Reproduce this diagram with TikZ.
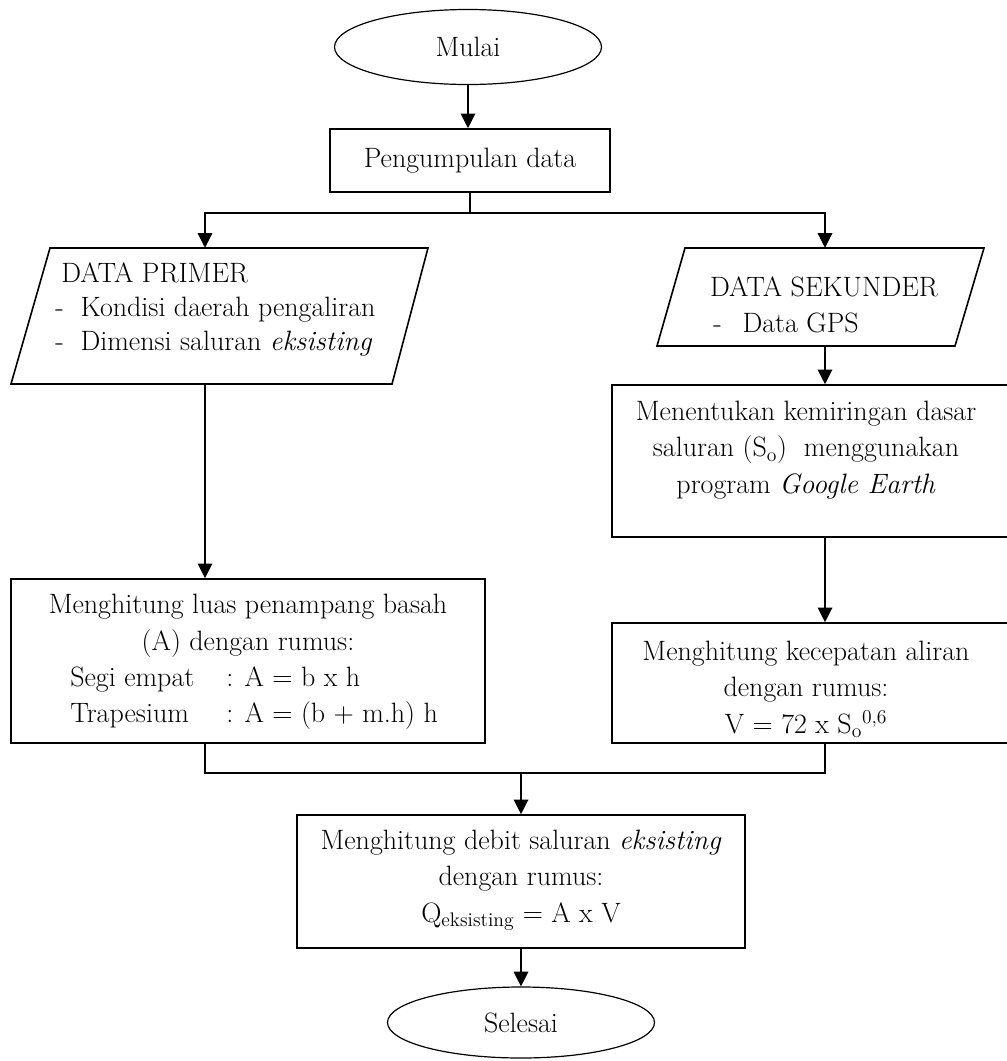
\documentclass[tikz,border=0pt]{standalone}
\usetikzlibrary{shapes.geometric,arrows.meta}
\begin{document}
\begin{tikzpicture}[x=0.75pt,y=-0.75pt,
  txt/.style={font=\fontsize{21}{27.4}\selectfont, inner sep=0pt},
  box/.style={draw, line width=1.2pt, rectangle, inner sep=0pt},
  term/.style={draw, line width=0.9pt, ellipse, inner sep=0pt, font=\fontsize{21}{27.4}\selectfont, minimum width=200.25pt},
  io/.style={draw, line width=1.2pt, line join=miter},
  area/.style={rectangle, inner sep=0pt},
  arr/.style={line width=0.9pt, -{Triangle[length=11pt,width=11pt]}},
  con/.style={line width=0.9pt}]
\useasboundingbox (0,0) rectangle (1007,1061);

% shapes
\node[term, minimum height=56.25pt] (start) at (468,47) {Mulai};
\node[box, minimum width=210pt, minimum height=47.25pt, font=\fontsize{21}{27.4}\selectfont] (pd) at (470,160.5) {Pengumpulan data};
\node[area, minimum width=312.75pt, minimum height=102pt] (dp) at (219.5,316) {};
\draw[io] (50,248) -- (428,248) -- (392,384) -- (11,384) -- cycle;
\node[area, minimum width=245.25pt, minimum height=73.5pt] (ds) at (820.5,297) {};
\draw[io] (685,248) -- (984,248) -- (955,346) -- (657,346) -- cycle;
\node[box, minimum width=297pt, minimum height=114pt] (r1) at (810,461) {};
\node[box, minimum width=297pt, minimum height=90pt] (r2) at (810,683) {};
\node[box, minimum width=355.5pt, minimum height=123pt] (lb) at (248,661) {};
\node[box, minimum width=336pt, minimum height=99.75pt] (qb) at (521,881.5) {};
\node[term, minimum height=53.25pt] (end) at (521,1022.5) {Selesai};

% texts
\node[txt, anchor=west, align=left, font=\fontsize{21}{25.5}\selectfont] (dpt) at (55,309)
  {\hspace{4.5pt}DATA PRIMER\\
   \makebox[19pt][l]{-}Kondisi daerah pengaliran\\
   \makebox[19pt][l]{-}Dimensi saluran \textit{eksisting}};
\node[txt] (dst) at (824,287) {DATA SEKUNDER};
\node[txt, anchor=west] (dsl) at (713,323) {\makebox[22pt][l]{-}Data GPS};
\node[txt, align=center] (r1t) at (806,450)
  {Menentukan kemiringan dasar\\
   saluran (S\textsubscript{o})\ \ menggunakan\\
   program \textit{Google Earth}};
\node[txt, align=center] (r2t) at (806,689)
  {Menghitung kecepatan aliran\\
   dengan rumus:\\
   V = 72 x S\textsubscript{o}\textsuperscript{0,6}};
\node[txt, align=center] (lbt) at (248,626)
  {Menghitung luas penampang basah\\
   (A) dengan rumus:};
\node[txt, anchor=west, align=left] (lbf) at (70,698)
  {\makebox[117pt][l]{Segi empat}: A = b x h\\
   \makebox[117pt][l]{Trapesium}: A = (b + m.h) h};
\node[txt, align=center] (qbt) at (521,880)
  {Menghitung debit saluran \textit{eksisting}\\
   dengan rumus:\\
   Q\textsubscript{eksisting} = A x V};

% connectors
\coordinate (cl) at (205,213);
\coordinate (cr) at (825,213);
\coordinate (jb) at (521,773);
\draw[arr] (start.south) -- (start.south |- pd.north);
\draw[arr] (pd.south) |- (cl) -- (cl |- dp.north);
\draw[arr] (pd.south) |- (cr) -- (cr |- ds.north);
\draw[arr] (cl |- dp.south) -- (cl |- lb.north);
\draw[arr] (cr |- ds.south) -- (cr |- r1.north);
\draw[arr] (cr |- r1.south) -- (cr |- r2.north);
\draw[con] (cl |- lb.south) |- (cr |- jb) -- (cr |- r2.south);
\draw[arr] (jb) -- (qb.north);
\draw[arr] (qb.south) -- (end.north);
\end{tikzpicture}
\end{document}
